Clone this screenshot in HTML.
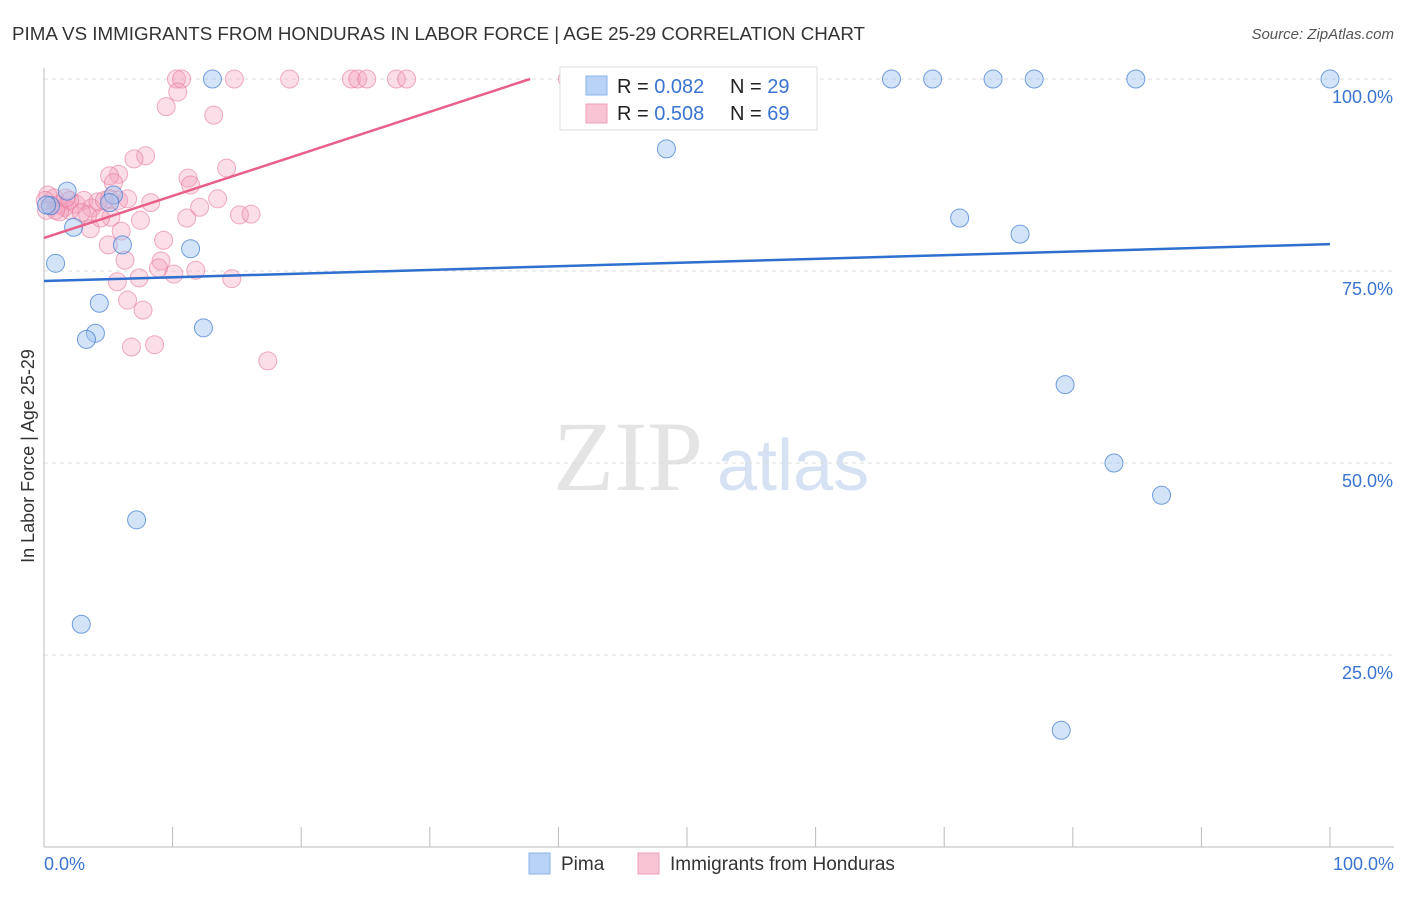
<!DOCTYPE html>
<html><head><meta charset="utf-8"><style>
body{margin:0;background:#fff;font-family:"Liberation Sans",sans-serif;}
</style></head><body>
<svg id="c" width="1406" height="892" xmlns="http://www.w3.org/2000/svg">
<text x="12" y="40" font-size="18" fill="#333" textLength="853" lengthAdjust="spacingAndGlyphs">PIMA VS IMMIGRANTS FROM HONDURAS IN LABOR FORCE | AGE 25-29 CORRELATION CHART</text>
<text x="1394" y="39" font-size="15" fill="#555" font-style="italic" text-anchor="end">Source: ZipAtlas.com</text>
<text x="553" y="490" font-size="100" fill="#e4e4e4" font-family="Liberation Serif,serif">ZIP</text>
<text x="717" y="490" font-size="72" fill="#d6e2f3">atlas</text>
<text x="34" y="456" font-size="18" fill="#333" text-anchor="middle" transform="rotate(-90 34 456)">In Labor Force | Age 25-29</text>
<g id="axes"></g><g id="marks"></g>
<g>
<rect x="560" y="67" width="257" height="63" fill="#fff" stroke="#ddd"/>
<rect x="586" y="76" width="21" height="19" fill="#b8d3f5" stroke="#8ab4ea"/>
<rect x="586" y="104" width="21" height="19" fill="#f8c3d3" stroke="#f0a0b8"/>
<text x="617" y="93" font-size="20" fill="#222">R = <tspan fill="#3a74d0">0.082</tspan></text>
<text x="730" y="93" font-size="20" fill="#222">N = <tspan fill="#3a74d0">29</tspan></text>
<text x="617" y="120" font-size="20" fill="#222">R = <tspan fill="#3a74d0">0.508</tspan></text>
<text x="730" y="120" font-size="20" fill="#222">N = <tspan fill="#3a74d0">69</tspan></text>
</g>
<g>
<rect x="529" y="853" width="21" height="21" fill="#b8d3f5" stroke="#8ab4ea"/>
<text x="561" y="870" font-size="19" fill="#333">Pima</text>
<rect x="638" y="853" width="21" height="21" fill="#f8c3d3" stroke="#f0a0b8"/>
<text x="670" y="870" font-size="19" fill="#333">Immigrants from Honduras</text>
</g>
</svg>
<script>
const pimaPx=[[212,79],[891,79],[932,79],[993,79],[1034,79],[1136,79],[1330,79],[667,149],[67,191],[113,195],[110,203],[50,206],[74,227],[122,245],[190,249],[55,263],[959,218],[1020,234],[99,303],[95,333],[87,339],[203,328],[1065,385],[1114,463],[1162,495],[136,520],[81,624],[1061,730],[47,205]];
const hondPx=[[176,79],[181,79],[234,79],[290,79],[351,79],[358,79],[367,79],[397,79],[407,79],[567,79],[577,79],[178,92],[166,107],[214,115],[145,156],[134,159],[119,174],[109,176],[227,168],[188,178],[191,185],[114,183],[48,195],[54,198],[58,205],[64,207],[70,210],[76,204],[84,200],[91,208],[98,202],[104,200],[110,199],[118,200],[128,199],[151,203],[217,199],[200,207],[47,210],[60,212],[88,215],[111,217],[141,220],[187,218],[240,215],[251,214],[90,229],[121,231],[164,240],[108,245],[125,260],[161,261],[159,268],[174,274],[196,270],[232,279],[139,278],[117,282],[128,300],[143,310],[132,347],[155,345],[268,361],[81,213],[100,218],[70,200],[56,210],[45,200],[66,198]];
const pimaX=pimaPx.map(p=>+((p[0]-44)/12.86).toFixed(1));
const pimaY=pimaPx.map(p=>+((847-p[1])/7.68).toFixed(1));
const hondX=hondPx.map(p=>+((p[0]-44)/12.86).toFixed(1));
const hondY=hondPx.map(p=>+((847-p[1])/7.68).toFixed(1));
const yTicks=[25,50,75,100];
const yTickLabels=["25.0%","50.0%","75.0%","100.0%"];
const xTicks=[0,10,20,30,40,50,60,70,80,90,100];
const pimaTrend=[73.7,78.5];
const hondTrend=[79.3,100,37.8];
const sx=v=>44+v*12.86, sy=v=>847-v*7.68;
const NS="http://www.w3.org/2000/svg";
function mk(parent,tag,attrs){const e=document.createElementNS(NS,tag);for(const k in attrs)e.setAttribute(k,attrs[k]);parent.appendChild(e);return e;}
const ax=document.getElementById('axes'), mg=document.getElementById('marks');
yTicks.forEach((t,i)=>{
 const l=mk(ax,'line',{x1:44,x2:1394,y1:sy(t),y2:sy(t),stroke:'#ddd','stroke-dasharray':'4,4'});
 
 
 const tx=mk(ax,'text',{x:1393,y:sy(t)+24,'font-size':18,fill:'#3a74d0','text-anchor':'end'});tx.textContent=yTickLabels[i];
 
 
});
const yl=mk(ax,'line',{x1:44,x2:44,y1:68,y2:847,stroke:'#bbb'});


const xl=mk(ax,'line',{x1:44,x2:1394,y1:847,y2:847,stroke:'#bbb'});


xTicks.forEach(t=>{const l=mk(ax,'line',{x1:sx(t),x2:sx(t),y1:827,y2:847,stroke:'#bbb'});
 
 });
[[44,'0.0%','start'],[1394,'100.0%','end']].forEach(a=>{const t=mk(ax,'text',{x:a[0],y:870,'font-size':18,fill:'#3a74d0','text-anchor':a[2]});t.textContent=a[1];
 
 });
hondX.forEach((x,i)=>{const c=mk(mg,'circle',{cx:sx(x),cy:sy(hondY[i]),r:9,fill:'rgba(244,160,188,0.35)',stroke:'rgba(230,120,155,0.6)'});
 
 });
pimaX.forEach((x,i)=>{const c=mk(mg,'circle',{cx:sx(x),cy:sy(pimaY[i]),r:9,fill:'rgba(160,195,240,0.45)',stroke:'rgba(60,120,210,0.7)'});
 
 });
const pl=mk(mg,'line',{x1:sx(0),y1:sy(pimaTrend[0]),x2:sx(100),y2:sy(pimaTrend[1]),stroke:'#2f6fd0','stroke-width':2.5});


const hl=mk(mg,'line',{x1:sx(0),y1:sy(hondTrend[0]),x2:sx(hondTrend[2]),y2:sy(hondTrend[1]),stroke:'#e8608a','stroke-width':2.5});


</script>
</body></html>
